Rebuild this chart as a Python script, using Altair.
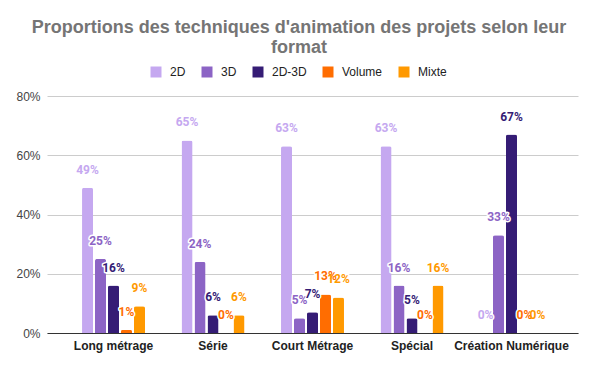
import altair as alt
import pandas as pd

categories = ["Long métrage", "Série", "Court Métrage", "Spécial", "Création Numérique"]
series = ["2D", "3D", "2D-3D", "Volume", "Mixte"]
colors = ["#c5a8f0", "#8c64c5", "#351c75", "#ff6d01", "#ff9900"]

v_2d = [49, 65, 63, 63, 0]
v_3d = [25, 24, 5, 16, 33]
v_2d3d = [16, 6, 7, 5, 67]
v_volume = [1, 0, 13, 0, 0]
v_mixte = [9, 6, 12, 16, 0]

rows = []
for s, vals in zip(series, [v_2d, v_3d, v_2d3d, v_volume, v_mixte]):
    for c, v in zip(categories, vals):
        rows.append({"format": c, "technique": s, "value": v / 100})
df = pd.DataFrame(rows)

x = alt.X("format:N", sort=categories, title=None,
          scale=alt.Scale(paddingInner=0.367, paddingOuter=0.352),
          axis=alt.Axis(labelAngle=0, labelFont="Liberation Sans", labelFontSize=12,
                        labelFontWeight="bold", labelColor="#222222", labelPadding=7,
                        ticks=False, domain=True, domainColor="#333333", grid=False))
xo = alt.XOffset("technique:N", sort=series,
                 scale=alt.Scale(paddingInner=0.15, paddingOuter=0))
y = alt.Y("value:Q", title=None,
          scale=alt.Scale(domain=[0, 0.8], nice=False),
          axis=alt.Axis(values=[0, 0.2, 0.4, 0.6, 0.8], format=".0%",
                        labelFont="Liberation Sans", labelFontSize=12, labelColor="#444444",
                        labelPadding=7, ticks=False, domain=False,
                        gridColor="#cccccc", gridWidth=1))
color = alt.Color("technique:N", sort=series,
                  scale=alt.Scale(domain=series, range=colors),
                  legend=alt.Legend(title=None, orient="none", direction="horizontal",
                                    legendX=103, legendY=-30, symbolType="square",
                                    symbolSize=121, symbolStrokeWidth=0,
                                    labelFont="Liberation Sans", labelFontSize=12,
                                    labelColor="#222222", labelOffset=8,
                                    columnPadding=15, padding=0))

base = alt.Chart(df)
bars = base.mark_bar(cornerRadiusTopLeft=2, cornerRadiusTopRight=2).encode(
    x=x, xOffset=xo, y=y, color=color)
halo = base.mark_text(dy=-18, baseline="middle", font="Roboto", fontSize=12,
                      fontWeight="bold", stroke="white", strokeWidth=3,
                      strokeJoin="round", fill="white").encode(
    x=x, xOffset=xo, y=y, text=alt.Text("value:Q", format=".0%"))
labels = base.mark_text(dy=-18, baseline="middle", font="Roboto", fontSize=12,
                        fontWeight="bold").encode(
    x=x, xOffset=xo, y=y, text=alt.Text("value:Q", format=".0%"), color=color)

chart = alt.layer(bars, halo, labels).properties(
    width=531, height=237,
    autosize=alt.AutoSizeParams(type="none"),
    padding={"left": 39, "top": 88, "right": 4, "bottom": 20},
    title=alt.TitleParams(
        text=["Proportions des techniques d'animation des projets selon leur", "format"],
        font="Liberation Sans", fontSize=18, fontWeight="bold", color="#757575",
        anchor="middle", frame="group", dx=-13.5, lineHeight=20, offset=9),
).configure_view(stroke=None)

chart.save("out.html", embed_options={"renderer": "svg", "actions": False})
